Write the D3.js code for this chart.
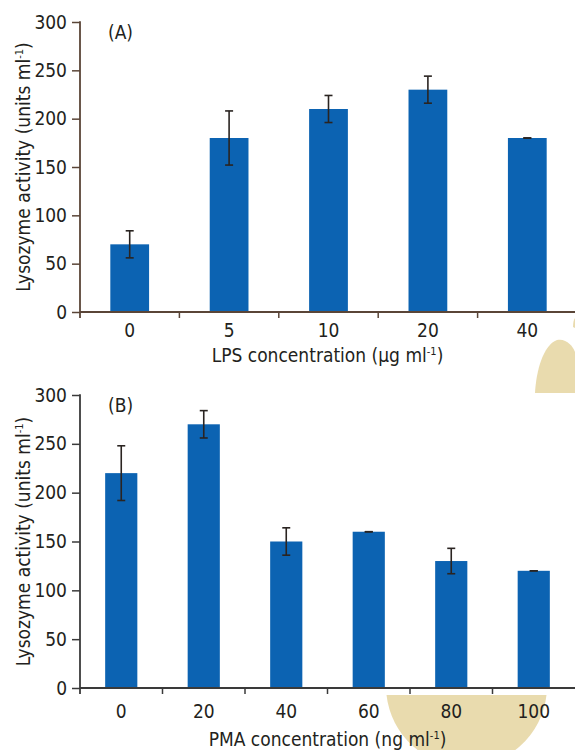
<!DOCTYPE html>
<html>
<head>
<meta charset="utf-8">
<script src="https://cdn.jsdelivr.net/npm/d3@7/dist/d3.min.js"></script>
<style>
  html, body { margin: 0; padding: 0; background: #fff; }
  svg { display: block; }
  text { font-family: "Liberation Sans Narrow", "DejaVu Sans Condensed", "Roboto", sans-serif; fill: #231f20; }
</style>
</head>
<body>
<svg id="chart" width="575" height="750"></svg>
<script>
// Lysozyme activity after LPS stimulation (panel A)
const lpsDoses = ["0", "5", "10", "20", "40"];
const lpsActivity = [70, 180, 210, 230, 180];
const lpsError = [14, 28, 14, 14, 0];

// Lysozyme activity after PMA stimulation (panel B)
const pmaDoses = ["0", "20", "40", "60", "80", "100"];
const pmaActivity = [220, 270, 150, 160, 130, 120];
const pmaError = [28, 14, 14, 0, 13, 0];

// Shared y-axis ticks
const yTicks = [0, 50, 100, 150, 200, 250, 300];

const svg = d3.select("#chart");
const BAR_COLOR = "#0c63b2";
const ERR_COLOR = "#2a2421";

// decorative beige shapes behind the plots
const beige = "#e9dbae";
svg.append("path")
  .attr("d", "M535,393 C536,372 543,345 557,340 C566,338 573,346 575,352 L575,393 Z")
  .attr("fill", beige);
svg.append("path")
  .attr("d", "M573,327 C573,322 574,319 575,318 L575,328 Z")
  .attr("fill", beige);
// lower half-disc, cut by a horizontal chord just under the PMA axis
const cx = 466.5, cy = 686, r = 80.5, chordY = 695;
const half = Math.sqrt(r * r - (chordY - cy) * (chordY - cy));
svg.append("path")
  .attr("d", `M${cx - half},${chordY} A${r},${r} 0 0 0 ${cx + half},${chordY} Z`)
  .attr("fill", beige);

function drawPanel(cfg) {
  const g = svg.append("g");
  const x = d3.scaleBand().domain(cfg.cats).range([cfg.left, cfg.right]).padding(0);
  const y = d3.scaleLinear().domain([0, 300]).range([cfg.bottom, cfg.top]);
  const bw = x.step() * 0.39;

  // bars
  g.selectAll("rect.bar").data(cfg.values).join("rect")
    .attr("class", "bar")
    .attr("x", (d, i) => x(cfg.cats[i]) + x.bandwidth() / 2 - bw / 2)
    .attr("width", bw)
    .attr("y", d => y(d))
    .attr("height", d => y(0) - y(d))
    .attr("fill", BAR_COLOR);

  // error bars
  const eb = g.selectAll("g.err").data(cfg.values).join("g").attr("class", "err")
    .attr("transform", (d, i) => `translate(${x(cfg.cats[i]) + x.bandwidth() / 2},0)`);
  eb.append("line")
    .attr("y1", (d, i) => y(d + cfg.errors[i]))
    .attr("y2", (d, i) => y(d - cfg.errors[i]))
    .attr("stroke", ERR_COLOR).attr("stroke-width", 1.6);
  eb.append("line")
    .attr("x1", -4).attr("x2", 4)
    .attr("y1", (d, i) => y(d + cfg.errors[i]))
    .attr("y2", (d, i) => y(d + cfg.errors[i]))
    .attr("stroke", ERR_COLOR).attr("stroke-width", 1.6);
  eb.append("line")
    .attr("x1", -4).attr("x2", 4)
    .attr("y1", (d, i) => y(d - cfg.errors[i]))
    .attr("y2", (d, i) => y(d - cfg.errors[i]))
    .attr("stroke", ERR_COLOR).attr("stroke-width", 1.6);

  // y axis
  const yAxis = g.append("g")
    .attr("transform", `translate(${cfg.left},0)`)
    .call(d3.axisLeft(y).tickValues(yTicks).tickSize(8).tickSizeOuter(0).tickPadding(5));
  yAxis.select(".domain").remove();
  yAxis.selectAll(".tick line").attr("stroke", cfg.axisColor).attr("stroke-width", 1.5);
  yAxis.selectAll(".tick text").attr("font-size", 19).attr("fill", "#231f20")
    .attr("font-family", null);
  g.append("line")
    .attr("x1", cfg.left).attr("x2", cfg.left)
    .attr("y1", y(300) - 0.75).attr("y2", y(0) + 6)
    .attr("stroke", cfg.axisColor).attr("stroke-width", 1.8);

  // x axis: labels at bar centres, ticks at category boundaries
  const xAxis = g.append("g")
    .attr("transform", `translate(0,${cfg.bottom})`)
    .call(d3.axisBottom(x).tickSize(0).tickPadding(cfg.labelPad));
  xAxis.select(".domain").remove();
  xAxis.selectAll(".tick text").attr("font-size", 19).attr("fill", "#231f20")
    .attr("font-family", null);
  g.append("line")
    .attr("x1", cfg.left).attr("x2", 575)
    .attr("y1", cfg.bottom).attr("y2", cfg.bottom)
    .attr("stroke", cfg.axisColor).attr("stroke-width", 1.8);
  g.selectAll("line.xtick").data(cfg.cats.slice(1)).join("line")
    .attr("class", "xtick")
    .attr("x1", d => x(d)).attr("x2", d => x(d))
    .attr("y1", cfg.bottom).attr("y2", cfg.bottom + 6)
    .attr("stroke", cfg.axisColor).attr("stroke-width", 1.5);

  // panel letter
  g.append("text")
    .attr("x", cfg.left + 28).attr("y", y(300) + 17)
    .attr("font-size", 19)
    .text(cfg.letter);

  // x title with superscript
  const xt = g.append("text")
    .attr("x", (cfg.left + 575) / 2).attr("y", cfg.bottom + cfg.titleOffset)
    .attr("text-anchor", "middle")
    .attr("font-size", 19);
  xt.append("tspan").text(cfg.xTitle);
  xt.append("tspan").attr("dy", -7).attr("font-size", 11).text("-1");
  xt.append("tspan").attr("dy", 7).text(")");

  // y title with superscript
  const yt = g.append("text")
    .attr("transform", `translate(30,${(y(0) + y(300)) / 2}) rotate(-90)`)
    .attr("text-anchor", "middle")
    .attr("font-size", 19);
  yt.append("tspan").text("Lysozyme activity (units ml");
  yt.append("tspan").attr("dy", -7).attr("font-size", 11).text("-1");
  yt.append("tspan").attr("dy", 7).text(")");
}

drawPanel({
  cats: lpsDoses, values: lpsActivity, errors: lpsError,
  left: 80, right: 577, top: 22, bottom: 312,
  labelPad: 12, titleOffset: 50,
  axisColor: "#5a4537", letter: "(A)",
  xTitle: "LPS concentration (\u00b5g ml"
});

drawPanel({
  cats: pmaDoses, values: pmaActivity, errors: pmaError,
  left: 80, right: 575, top: 395, bottom: 688,
  labelPad: 17, titleOffset: 58,
  axisColor: "#3a3a3a", letter: "(B)",
  xTitle: "PMA concentration (ng ml"
});
</script>
</body>
</html>
